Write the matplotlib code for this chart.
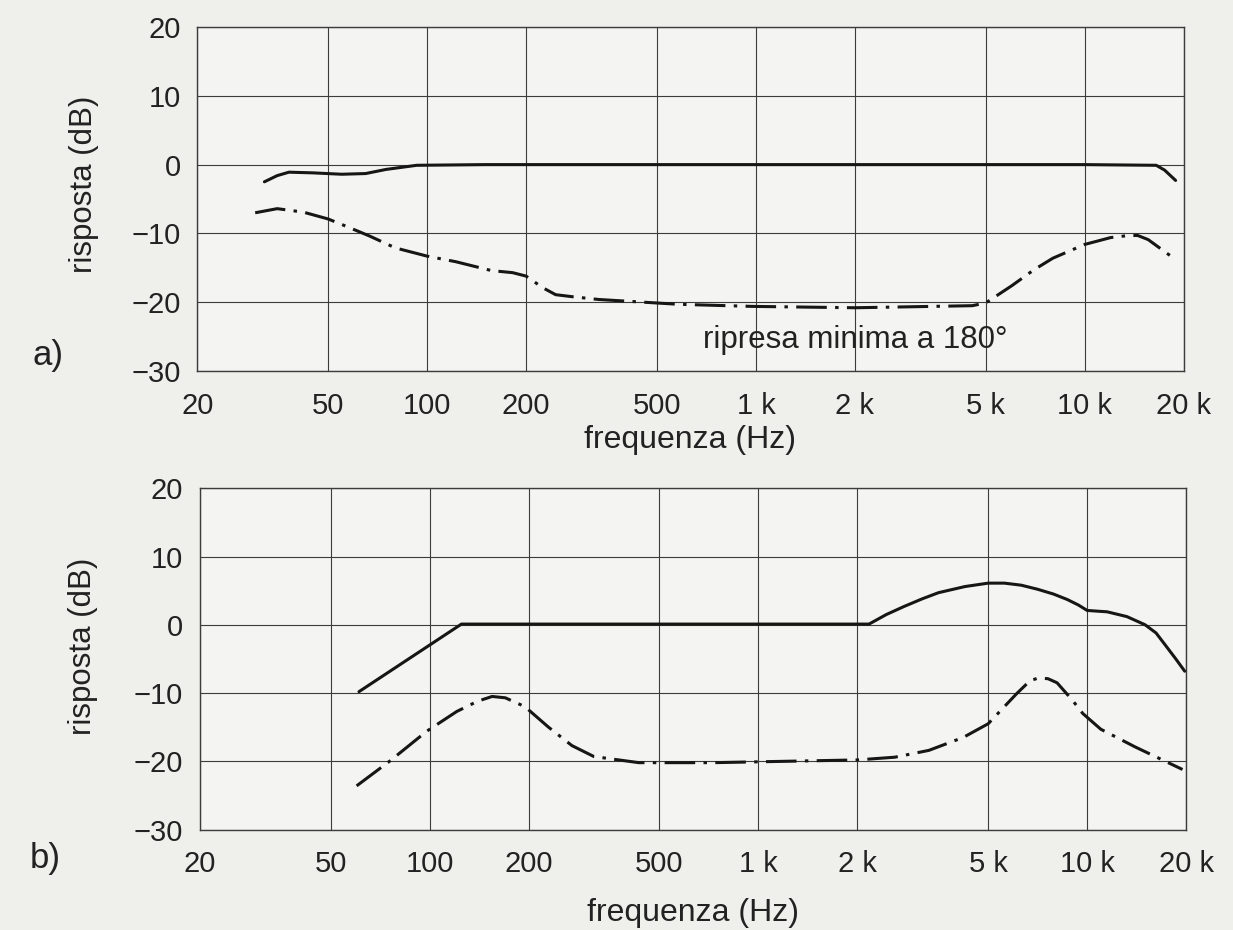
import matplotlib
matplotlib.use('Agg')
from matplotlib import pyplot as plt
from matplotlib.ticker import FixedLocator, FixedFormatter, NullLocator

plt.rcParams['font.family'] = ['Liberation Sans', 'DejaVu Sans']
plt.rcParams['lines.scale_dashes'] = False

# Axis ticks shared by both panels
freq_ticks = [20, 50, 100, 200, 500, 1000, 2000, 5000, 10000, 20000]
freq_labels = ['20', '50', '100', '200', '500', '1 k', '2 k', '5 k', '10 k', '20 k']
db_ticks = [-30, -20, -10, 0, 10, 20]
db_labels = ['\u221230', '\u221220', '\u221210', '0', '10', '20']

# Panel a) frontal response (solid)
a_solid_f = [32, 35, 38, 45, 55, 65, 75, 93, 150, 500, 2000, 10000, 16500, 17500, 18900]
a_solid_db = [-2.5, -1.6, -1.1, -1.2, -1.4, -1.3, -0.7, -0.1, 0, 0, 0, 0, -0.1, -0.8, -2.3]

# Panel a) rear response (dash-dot)
a_back_f = [30, 35, 42, 50, 57, 67, 80, 100, 122, 157, 182, 200, 225, 246, 277, 333,
            583, 970, 2000, 4550, 5000, 6000, 7000, 8000, 10000, 12000, 13600, 14500, 15600, 18900]
a_back_db = [-7.0, -6.4, -6.9, -7.9, -9.0, -10.4, -12.1, -13.3, -14.1, -15.4, -15.7, -16.2, -17.9,
             -18.9, -19.2, -19.6, -20.3, -20.6, -20.8, -20.5, -20.1, -17.6, -15.3, -13.6, -11.6,
             -10.6, -10.3, -10.3, -10.9, -13.8]

# Panel b) frontal response (solid)
b_solid_f = [61, 125, 500, 2170, 2450, 2780, 3150, 3530, 4250, 5000, 5600, 6300, 7070,
             7900, 8700, 9400, 10000, 10700, 11500, 13200, 15000, 16200, 17300, 18600, 19800]
b_solid_db = [-9.8, 0.1, 0.1, 0.1, 1.5, 2.7, 3.8, 4.7, 5.6, 6.1, 6.1, 5.8, 5.2,
              4.5, 3.7, 2.9, 2.1, 2.0, 1.9, 1.2, 0.0, -1.2, -3.0, -5.0, -6.8]

# Panel b) rear response (dash-dot)
b_back_f = [60, 76, 98, 121, 140, 155, 170, 195, 230, 271, 316, 433, 730, 2000, 2600,
            3300, 4200, 5000, 6100, 6700, 7100, 7600, 8100, 9000, 9700, 11000, 14000, 19500]
b_back_db = [-23.6, -19.9, -15.6, -12.7, -11.2, -10.5, -10.7, -12.0, -15.0, -17.7, -19.3,
             -20.2, -20.2, -19.8, -19.4, -18.4, -16.5, -14.5, -10.1, -8.2, -7.8, -7.9, -8.5,
             -11.0, -13.0, -15.3, -17.9, -21.2]

paper = '#efefec'
ink = '#161616'
grid_c = '#3c3c3c'
text_c = '#222222'

fig = plt.figure(figsize=(12.33, 9.30), dpi=100, facecolor=paper)
ax_a = fig.add_axes([0.160, 0.601, 0.800, 0.370])
ax_b = fig.add_axes([0.162, 0.108, 0.800, 0.367])


def style_axes(ax):
    ax.set_facecolor('#f4f4f2')
    ax.set_xscale('log')
    ax.set_xlim(20, 20000)
    ax.set_ylim(-30, 20)
    ax.xaxis.set_major_locator(FixedLocator(freq_ticks))
    ax.xaxis.set_major_formatter(FixedFormatter(freq_labels))
    ax.xaxis.set_minor_locator(NullLocator())
    ax.yaxis.set_major_locator(FixedLocator(db_ticks))
    ax.yaxis.set_major_formatter(FixedFormatter(db_labels))
    ax.tick_params(axis='both', length=0, labelsize=21, colors=text_c)
    ax.tick_params(axis='x', pad=15)
    ax.tick_params(axis='y', pad=12)
    ax.grid(True, color=grid_c, linewidth=0.8)
    for s in ax.spines.values():
        s.set_color(grid_c)
        s.set_linewidth(1.0)
    ax.set_ylabel('risposta (dB)', fontsize=22.5, color=text_c)


style_axes(ax_a)
style_axes(ax_b)
ax_a.yaxis.set_label_coords(-0.100, 0.544)
ax_b.yaxis.set_label_coords(-0.103, 0.538)

dash_dot = (0, (22, 6, 2.5, 6))

ax_a.plot(a_solid_f, a_solid_db, color=ink, linewidth=2.2, solid_capstyle='round')
ax_a.plot(a_back_f, a_back_db, color=ink, linewidth=2.2, linestyle=dash_dot)
ax_a.text(2000, -25.5, 'ripresa minima a 180\u00b0', fontsize=22.5, color=text_c,
          ha='center', va='center')
ax_a.set_xlabel('frequenza (Hz)', fontsize=23, color=text_c, labelpad=4)

ax_b.plot(b_solid_f, b_solid_db, color=ink, linewidth=2.2, solid_capstyle='round')
ax_b.plot(b_back_f, b_back_db, color=ink, linewidth=2.2, linestyle=dash_dot)
ax_b.set_xlabel('frequenza (Hz)', fontsize=23, color=text_c, labelpad=14)

fig.text(0.039, 0.618, 'a)', fontsize=25, color=text_c, ha='center', va='center')
fig.text(0.037, 0.077, 'b)', fontsize=25, color=text_c, ha='center', va='center')

fig.savefig('out.png', dpi=100, facecolor=paper)
